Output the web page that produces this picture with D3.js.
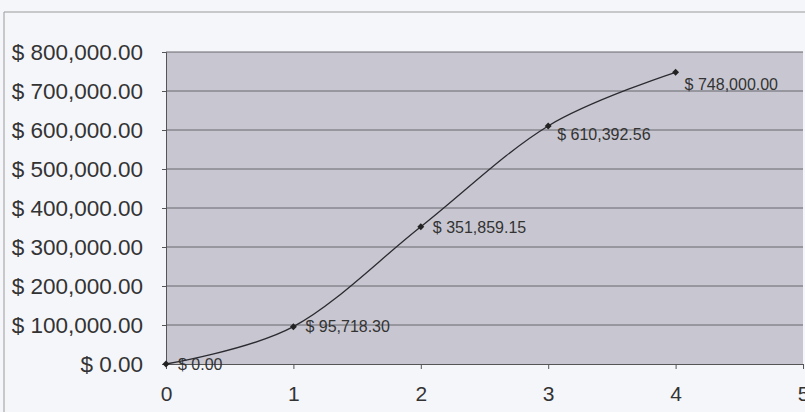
<!DOCTYPE html>
<html>
<head>
<meta charset="utf-8">
<script src="https://cdn.jsdelivr.net/npm/d3@7"></script>
<style>
  body { margin: 0; background: #f5f6fa; }
  text { font-family: "Liberation Sans", Arial, sans-serif; fill: #333; }
</style>
</head>
<body>
<script>
// chart values
const periods = [0, 1, 2, 3, 4];
const amounts = [0, 95718.30, 351859.15, 610392.56, 748000.00];
const yTicks = [0, 100000, 200000, 300000, 400000, 500000, 600000, 700000, 800000];
const xTicks = [0, 1, 2, 3, 4, 5];

const W = 805, H = 412;
const margin = { top: 52, right: 2, bottom: 48, left: 166 };
const width = W - margin.left - margin.right;
const height = H - margin.top - margin.bottom;

const svg = d3.select('body').append('svg')
  .attr('width', W).attr('height', H);

// outer chart border (partly cut off in the scan)
svg.append('path')
  .attr('d', `M4,${H} V12 H${W}`)
  .attr('fill', 'none').attr('stroke', '#9a9a9a').attr('stroke-width', 1);

const x = d3.scaleLinear().domain([0, 5]).range([0, width]);
const y = d3.scaleLinear().domain([0, 800000]).range([height, 0]);

const chart = svg.append('g')
  .attr('transform', `translate(${margin.left},${margin.top})`);

// plot area
chart.append('rect')
  .attr('width', width).attr('height', height)
  .attr('fill', '#c8c7d1');

// gridlines
chart.append('g').selectAll('line')
  .data(yTicks.filter(d => d > 0))
  .join('line')
  .attr('x1', 0).attr('x2', width)
  .attr('y1', d => y(d)).attr('y2', d => y(d))
  .attr('stroke', '#66666c').attr('stroke-width', 1);

const money = d3.format(',.2f');

// y axis
const yAxis = chart.append('g')
  .call(d3.axisLeft(y).tickValues(yTicks).tickSize(4).tickPadding(19)
    .tickFormat(d => '$ ' + money(d)));
yAxis.select('.domain').attr('stroke', '#555');
yAxis.selectAll('.tick line').attr('stroke', '#555');
yAxis.selectAll('text').style('font-size', '22.5px').attr('fill', '#333');

// x axis
const xAxis = chart.append('g')
  .attr('transform', `translate(0,${height})`)
  .call(d3.axisBottom(x).tickValues(xTicks).tickSize(5).tickPadding(17)
    .tickFormat(d3.format('d')));
xAxis.select('.domain').attr('stroke', '#555');
xAxis.selectAll('.tick line').attr('stroke', '#555');
xAxis.selectAll('text').style('font-size', '21px').attr('fill', '#333');

const pts = periods.map((p, i) => ({ p, v: amounts[i] }));

// smoothed line
const line = d3.line()
  .x(d => x(d.p))
  .y(d => y(d.v))
  .curve(d3.curveCatmullRom.alpha(0));

chart.append('path')
  .datum(pts)
  .attr('fill', 'none')
  .attr('stroke', '#2a2a30')
  .attr('stroke-width', 1.3)
  .attr('d', line);

// diamond markers
chart.append('g').selectAll('path')
  .data(pts)
  .join('path')
  .attr('transform', d => `translate(${x(d.p)},${y(d.v)}) rotate(45)`)
  .attr('d', d3.symbol(d3.symbolSquare, 24)())
  .attr('fill', '#222');

// data labels
const dx = [12, 12, 12, 9, 9];
const dy = [6, 5, 6, 14, 18];
chart.append('g').selectAll('text')
  .data(pts)
  .join('text')
  .attr('x', (d, i) => x(d.p) + dx[i])
  .attr('y', (d, i) => y(d.v) + dy[i])
  .style('font-size', '16px')
  .attr('fill', '#333')
  .text(d => '$ ' + money(d.v));
</script>
</body>
</html>
